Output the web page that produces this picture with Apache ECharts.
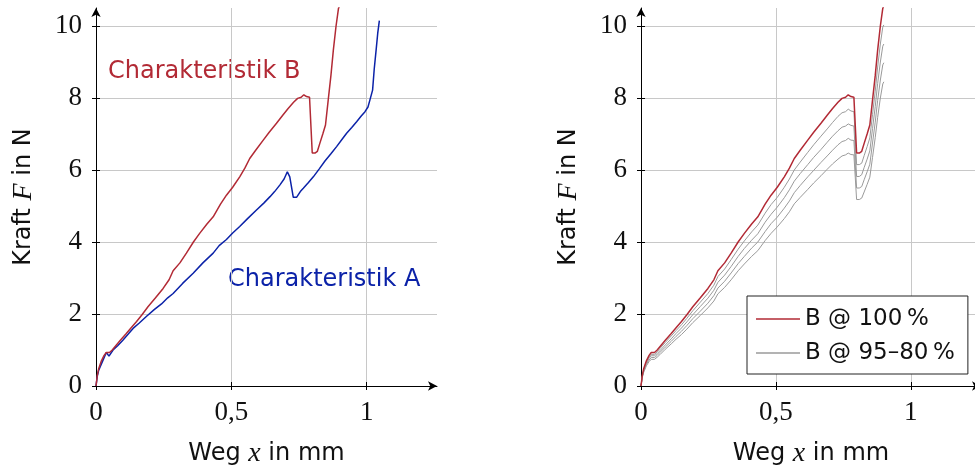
<!DOCTYPE html>
<html>
<head>
<meta charset="utf-8">
<style>
  html, body { margin: 0; padding: 0; background: #fff; }
  #chart { width: 975px; height: 468px; }
</style>
<script src="https://cdn.jsdelivr.net/npm/echarts@6/dist/echarts.min.js"></script>
</head>
<body>
<div id="chart"></div>
<script>
// Weg (mm) sample positions for characteristic B and its scaled variants
const xB = [0.000, 0.005, 0.010, 0.020, 0.030, 0.038, 0.050, 0.060, 0.070, 0.090,
            0.112, 0.130, 0.150, 0.170, 0.192, 0.220, 0.248, 0.270, 0.285, 0.310,
            0.334, 0.360, 0.383, 0.410, 0.433, 0.460, 0.482, 0.505, 0.531, 0.550,
            0.568, 0.590, 0.618, 0.640, 0.667, 0.690, 0.710, 0.730, 0.745, 0.758,
            0.768, 0.778, 0.789, 0.799, 0.809, 0.818, 0.827, 0.838, 0.848, 0.858,
            0.868, 0.877, 0.887, 0.896, 0.900];
// Kraft (N), characteristic B @ 100 %
const yB100 = [0.00, 0.30, 0.48, 0.70, 0.85, 0.93, 0.93, 1.00, 1.09, 1.27,
               1.46, 1.62, 1.79, 1.98, 2.20, 2.45, 2.71, 2.95, 3.20, 3.42,
               3.69, 4.00, 4.24, 4.50, 4.70, 5.05, 5.30, 5.52, 5.81, 6.05,
               6.32, 6.55, 6.83, 7.05, 7.30, 7.52, 7.71, 7.88, 7.99, 8.02,
               8.09, 8.04, 8.02, 6.47, 6.47, 6.52, 6.74, 7.00, 7.25, 7.94,
               8.62, 9.33, 10.00, 10.49, 10.56];
const yB95 = [0.00, 0.29, 0.46, 0.67, 0.81, 0.88, 0.88, 0.95, 1.04, 1.21,
              1.39, 1.54, 1.70, 1.88, 2.09, 2.33, 2.57, 2.80, 3.04, 3.25,
              3.51, 3.80, 4.03, 4.28, 4.47, 4.80, 5.04, 5.24, 5.52, 5.75,
              6.00, 6.22, 6.49, 6.70, 6.94, 7.14, 7.32, 7.49, 7.59, 7.62,
              7.69, 7.64, 7.62, 6.15, 6.15, 6.19, 6.40, 6.65, 6.89, 7.54,
              8.19, 8.86, 9.50, 9.97, 10.03];
const yB90 = [0.00, 0.27, 0.43, 0.63, 0.77, 0.84, 0.84, 0.90, 0.98, 1.14,
              1.31, 1.46, 1.61, 1.78, 1.98, 2.21, 2.44, 2.66, 2.88, 3.08,
              3.32, 3.60, 3.82, 4.05, 4.23, 4.55, 4.77, 4.97, 5.23, 5.45,
              5.69, 5.90, 6.15, 6.35, 6.57, 6.77, 6.94, 7.09, 7.19, 7.22,
              7.28, 7.24, 7.22, 5.82, 5.82, 5.87, 6.07, 6.30, 6.53, 7.15,
              7.76, 8.40, 9.00, 9.44, 9.50];
const yB85 = [0.00, 0.26, 0.41, 0.60, 0.72, 0.79, 0.79, 0.85, 0.93, 1.08,
              1.24, 1.38, 1.52, 1.68, 1.87, 2.08, 2.30, 2.51, 2.72, 2.91,
              3.14, 3.40, 3.60, 3.83, 4.00, 4.29, 4.51, 4.69, 4.94, 5.14,
              5.37, 5.57, 5.81, 5.99, 6.21, 6.39, 6.55, 6.70, 6.79, 6.82,
              6.88, 6.83, 6.82, 5.50, 5.50, 5.54, 5.73, 5.95, 6.16, 6.75,
              7.33, 7.93, 8.50, 8.92, 8.98];
const yB80 = [0.00, 0.24, 0.38, 0.56, 0.68, 0.74, 0.74, 0.80, 0.87, 1.02,
              1.17, 1.30, 1.43, 1.58, 1.76, 1.96, 2.17, 2.36, 2.56, 2.74,
              2.95, 3.20, 3.39, 3.60, 3.76, 4.04, 4.24, 4.42, 4.65, 4.84,
              5.06, 5.24, 5.46, 5.64, 5.84, 6.02, 6.17, 6.30, 6.39, 6.42,
              6.47, 6.43, 6.42, 5.18, 5.18, 5.22, 5.39, 5.60, 5.80, 6.35,
              6.90, 7.46, 8.00, 8.39, 8.45];

// Characteristic A
const xA = [0.000, 0.005, 0.010, 0.026, 0.038, 0.048, 0.063, 0.080, 0.100, 0.120,
            0.137, 0.160, 0.186, 0.215, 0.242, 0.265, 0.285, 0.320, 0.359, 0.395,
            0.433, 0.455, 0.482, 0.505, 0.531, 0.560, 0.593, 0.620, 0.643, 0.660,
            0.679, 0.695, 0.707, 0.716, 0.729, 0.741, 0.755, 0.766, 0.785, 0.803,
            0.825, 0.846, 0.868, 0.889, 0.910, 0.926, 0.945, 0.963, 0.980, 0.994,
            1.005, 1.012, 1.022, 1.028, 1.035, 1.041, 1.047];
const yA = [0.00, 0.28, 0.44, 0.72, 0.93, 0.83, 1.00, 1.12, 1.28, 1.45,
            1.60, 1.75, 1.93, 2.12, 2.28, 2.45, 2.57, 2.85, 3.13, 3.42,
            3.69, 3.90, 4.07, 4.25, 4.43, 4.65, 4.89, 5.08, 5.26, 5.40,
            5.58, 5.75, 5.95, 5.81, 5.24, 5.24, 5.40, 5.49, 5.65, 5.81,
            6.03, 6.25, 6.45, 6.65, 6.86, 7.02, 7.18, 7.34, 7.50, 7.62,
            7.75, 7.94, 8.22, 8.80, 9.33, 9.80, 10.15];

// Axis ticks
const xTicks = [0, 0.5, 1];
const yTicks = [0, 2, 4, 6, 8, 10];
const xMax = 1.26;
const yMax = 10.5;

const RED = '#b22a35';
const BLUE = '#0b22a8';
const GRAY = '#9a9a9a';
const SANS = 'DejaVu Sans';
const SERIF = 'Liberation Serif';

function pairs(xs, ys) { return xs.map((x, i) => [x, ys[i]]); }

const nameStyle = {
  fontFamily: SANS, fontSize: 24, color: '#111',
  rich: { i: { fontFamily: SERIF, fontStyle: 'italic', fontSize: 28, color: '#111' } }
};

function xAxisFor(gi, primary) {
  return {
    type: 'value', gridIndex: gi, min: 0, max: xMax, position: 'bottom',
    axisLine: { show: primary, onZero: false, symbol: ['none', 'arrow'], symbolSize: [7, 9],
                lineStyle: { color: '#000', width: 1 } },
    axisTick: { show: true, inside: !primary, length: 4, customValues: xTicks,
                lineStyle: { color: '#000', width: 1 } },
    axisLabel: { show: primary, customValues: xTicks, margin: 13,
                 formatter: v => String(v).replace('.', ','),
                 fontFamily: SERIF, fontSize: 27, color: '#111' },
    splitLine: { show: primary, lineStyle: { color: '#c8c8c8', width: 1 } },
    name: primary ? 'Weg {i|x} in mm' : '', nameLocation: 'middle', nameGap: 54,
    nameTextStyle: nameStyle
  };
}
function yAxisFor(gi, primary) {
  return {
    type: 'value', gridIndex: gi, min: 0, max: yMax, position: 'left',
    axisLine: { show: primary, onZero: false, symbol: ['none', 'arrow'], symbolSize: [7, 9],
                lineStyle: { color: '#000', width: 1 } },
    axisTick: { show: true, inside: !primary, length: 4, customValues: yTicks,
                lineStyle: { color: '#000', width: 1 } },
    axisLabel: { show: primary, customValues: yTicks, margin: 14,
                 fontFamily: SERIF, fontSize: 27, color: '#111' },
    splitLine: { show: primary, lineStyle: { color: '#c8c8c8', width: 1 } },
    name: primary ? 'Kraft {i|F} in N' : '', nameLocation: 'middle', nameGap: 58,
    nameRotate: 90, nameTextStyle: nameStyle
  };
}

function line(name, xi, yi, data, color, width, z) {
  return {
    type: 'line', name: name, xAxisIndex: xi, yAxisIndex: yi, data: data,
    symbol: 'none', showSymbol: false, clip: true, z: z,
    lineStyle: { color: color, width: width }, itemStyle: { color: color },
    emphasis: { disabled: true }
  };
}

const chart = echarts.init(document.getElementById('chart'), null, { renderer: 'canvas' });
chart.setOption({
  animation: false,
  backgroundColor: '#fff',
  grid: [
    { left: 96, top: 8, width: 341, height: 378, outerBoundsMode: 'none', containLabel: false },
    { left: 641, top: 8, width: 340, height: 378, outerBoundsMode: 'none', containLabel: false }
  ],
  xAxis: [xAxisFor(0, true), xAxisFor(0, false), xAxisFor(1, true), xAxisFor(1, false)],
  yAxis: [yAxisFor(0, true), yAxisFor(0, false), yAxisFor(1, true), yAxisFor(1, false)],
  legend: {
    data: [
      { name: 'B @ 100\u2009%', icon: 'rect', itemStyle: { color: RED } },
      { name: 'B @ 95\u201380\u2009%', icon: 'rect', itemStyle: { color: GRAY } }
    ],
    orient: 'vertical', left: 747, top: 296,
    padding: [11, 13, 9, 9], itemGap: 10, itemWidth: 44, itemHeight: 1.5,
    borderColor: '#222', borderWidth: 1, backgroundColor: '#fff',
    selectedMode: false,
    textStyle: { fontFamily: SANS, fontSize: 23, color: '#111', lineHeight: 24 }
  },
  graphic: [
    { type: 'text', left: 108, top: 60, style: { text: 'Charakteristik B', fill: RED,
      font: '24px "DejaVu Sans"' } },
    { type: 'text', left: 228, top: 268, style: { text: 'Charakteristik A', fill: BLUE,
      font: '24px "DejaVu Sans"' } }
  ],
  series: [
    line('Charakteristik A', 0, 0, pairs(xA, yA), BLUE, 1.5, 3),
    line('Charakteristik B', 0, 0, pairs(xB, yB100), RED, 1.5, 3),
    line('B @ 95\u201380\u2009%', 2, 2, pairs(xB, yB95), GRAY, 1, 2),
    line('B @ 95\u201380\u2009%', 2, 2, pairs(xB, yB90), GRAY, 1, 2),
    line('B @ 95\u201380\u2009%', 2, 2, pairs(xB, yB85), GRAY, 1, 2),
    line('B @ 95\u201380\u2009%', 2, 2, pairs(xB, yB80), GRAY, 1, 2),
    line('B @ 100\u2009%', 2, 2, pairs(xB, yB100), RED, 1.5, 3)
  ]
});
</script>
</body>
</html>
